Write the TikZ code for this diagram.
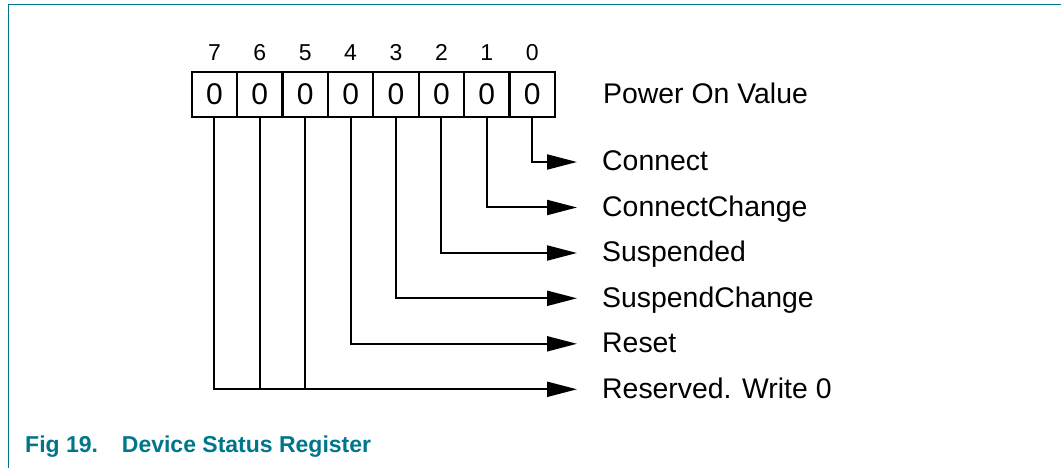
\documentclass[tikz,border=0pt]{standalone}
\usepackage{fontspec}
\setmainfont{Liberation Sans}
\usetikzlibrary{arrows.meta}
\definecolor{teal19}{RGB}{0,118,138}
\begin{document}
\begin{tikzpicture}[x=1pt,y=-1pt,
  cell/.style={draw,line width=2.2pt,minimum width=45.4pt,minimum height=45.4pt,inner sep=0pt,outer sep=0pt,font=\fontsize{30}{30}\selectfont},
  bitnum/.style={anchor=base,inner sep=0pt,font=\fontsize{23}{23}\selectfont},
  lbl/.style={anchor=base west,inner sep=0pt,font=\fontsize{28.4}{28.4}\selectfont},
  arr/.style={line width=2pt,-{Triangle[length=30pt,width=15pt]}},
  wire/.style={line width=2pt},
  captext/.style={anchor=base west,inner sep=0pt,text=teal19,font=\fontsize{23}{23}\selectfont\bfseries}]
\useasboundingbox (0,0) rectangle (1061,468);
\draw[teal19,line width=1.5pt] (1061,4.5) -- (8.5,4.5) -- (8.5,468);
% cells
\foreach \i in {0,...,7}{
  \node[cell] (c\i) at ({191.7+45.4*(7-\i)+22.7},94.5) {0};
  \node[bitnum] (b\i) at ({191.7+45.4*(7-\i)+22.7},60.7) {\i};
}
\node[lbl] (pov) at (603,104) {Power On Value};
% arrow end points
\coordinate (e0) at (577,162);
\coordinate (e1) at (577,207.5);
\coordinate (e2) at (577,253);
\coordinate (e3) at (577,298.3);
\coordinate (e4) at (577,343.8);
\coordinate (e7) at (577,389.3);
% labels
\node[lbl] (l0) at (602,170.8) {Connect};
\node[lbl] (l1) at (602,216.3) {ConnectChange};
\node[lbl] (l2) at (602,261.8) {Suspended};
\node[lbl] (l3) at (602,307.1) {SuspendChange};
\node[lbl] (l4) at (602,352.6) {Reset};
\node[lbl] (l7) at (602,398.1) {Reserved. Write 0};
% connectors
\draw[arr] (c0.south) |- (e0);
\draw[arr] (c1.south) |- (e1);
\draw[arr] (c2.south) |- (e2);
\draw[arr] (c3.south) |- (e3);
\draw[arr] (c4.south) |- (e4);
\draw[arr] (c7.south) |- (e7);
\draw[wire] (c6.south) -- (c6.south |- e7);
\draw[wire] (c5.south) -- (c5.south |- e7);
% caption
\node[captext] (f1) at (25,452.7) {Fig 19.};
\node[captext] (f2) at (121.7,452.7) {Device Status Register};
\end{tikzpicture}
\end{document}
